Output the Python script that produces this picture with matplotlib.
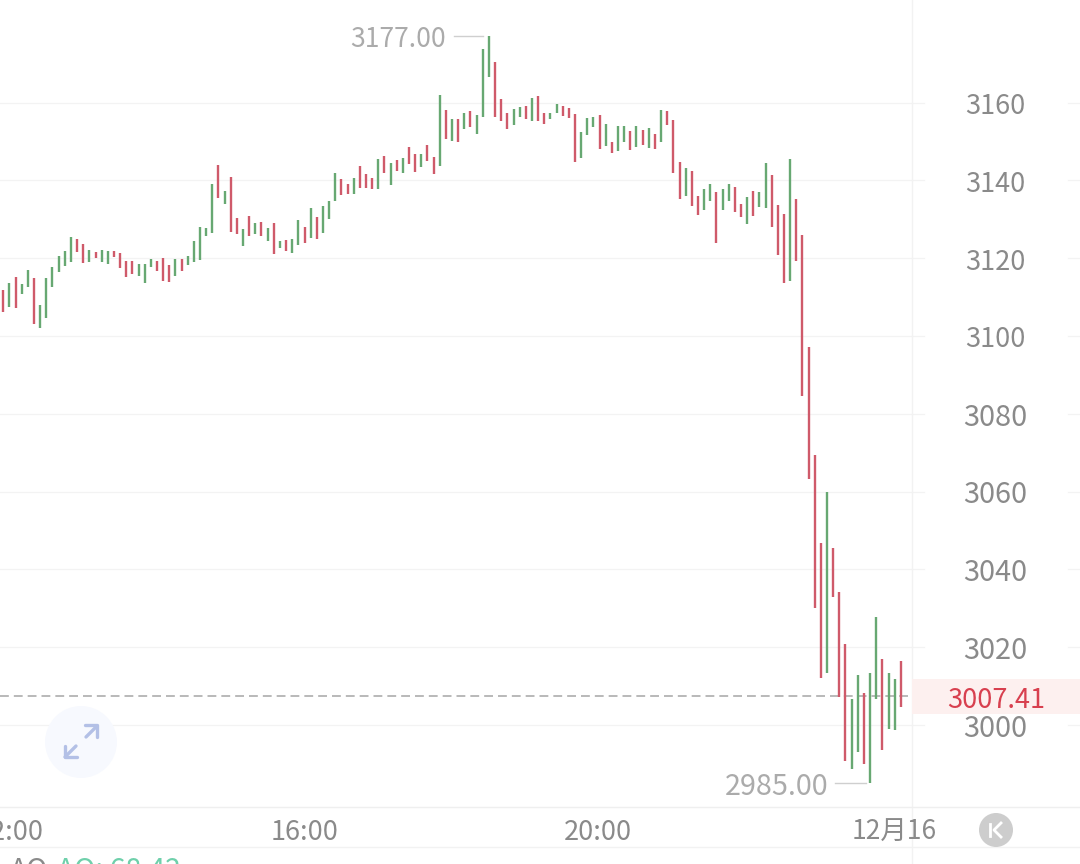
import matplotlib
matplotlib.use("Agg")
import matplotlib.pyplot as plt
from matplotlib.patches import Circle, Rectangle
from matplotlib.transforms import blended_transform_factory

# high / low of every bar
highs = [
    3111.7, 3113.5, 3115.1, 3113.3, 3117.0, 3114.8, 3107.9, 3115.0, 3117.7, 3120.6,
    3121.9, 3125.5, 3125.0, 3123.6, 3122.0, 3121.5, 3122.0, 3121.8, 3121.9, 3121.3,
    3119.3, 3119.2, 3118.4, 3118.4, 3119.9, 3119.2, 3120.0, 3118.2, 3119.7, 3119.7,
    3120.5, 3124.3, 3127.9, 3127.7, 3139.2, 3144.0, 3137.4, 3141.0, 3130.4, 3127.6,
    3130.8, 3129.0, 3129.2, 3127.7, 3129.0, 3124.3, 3124.6, 3124.9, 3129.7, 3127.9,
    3133.0, 3130.6, 3133.3, 3134.7, 3142.0, 3140.4, 3139.2, 3140.6, 3143.6, 3141.6,
    3140.5, 3145.4, 3146.3, 3144.6, 3145.2, 3145.8, 3148.7, 3146.7, 3146.9, 3149.0,
    3145.9, 3162.0, 3158.0, 3155.8, 3155.7, 3157.2, 3157.8, 3156.9, 3173.9, 3177.0,
    3170.5, 3161.0, 3157.2, 3158.4, 3158.8, 3159.0, 3161.3, 3161.8, 3157.2, 3157.3,
    3159.7, 3159.0, 3158.5, 3157.0, 3152.4, 3156.0, 3156.4, 3156.7, 3154.5, 3150.0,
    3153.9, 3153.9, 3152.6, 3154.0, 3153.0, 3153.5, 3152.0, 3158.0, 3157.8, 3155.4,
    3144.8, 3143.3, 3142.5, 3136.0, 3137.9, 3139.0, 3136.9, 3137.7, 3139.0, 3138.2,
    3134.0, 3135.8, 3137.3, 3136.9, 3144.4, 3141.3, 3133.6, 3131.3, 3145.4, 3135.2,
    3126.0, 3097.2, 3069.4, 3046.8, 3059.9, 3045.5, 3034.3, 3020.8, 3006.7, 3012.8,
    3008.1, 3013.3, 3027.8, 3016.9, 3013.4, 3011.8, 3016.5,
]
lows = [
    3106.2, 3107.5, 3107.3, 3110.7, 3112.7, 3103.2, 3102.1, 3104.5, 3112.5, 3116.5,
    3118.1, 3118.9, 3121.7, 3118.8, 3118.9, 3120.1, 3119.1, 3118.5, 3120.2, 3117.6,
    3115.1, 3115.9, 3115.3, 3113.7, 3117.8, 3116.6, 3114.1, 3114.0, 3115.5, 3116.6,
    3118.3, 3119.1, 3119.6, 3125.7, 3126.6, 3135.6, 3134.0, 3126.8, 3126.3, 3123.1,
    3125.8, 3126.3, 3125.8, 3124.3, 3121.2, 3122.5, 3121.9, 3121.3, 3123.3, 3124.0,
    3125.3, 3125.0, 3126.6, 3130.2, 3134.7, 3136.2, 3136.5, 3136.6, 3138.1, 3138.1,
    3137.9, 3137.9, 3141.9, 3138.9, 3142.3, 3142.0, 3144.3, 3142.2, 3143.5, 3145.1,
    3141.7, 3143.8, 3150.6, 3150.1, 3149.8, 3153.2, 3153.6, 3152.0, 3156.2, 3166.7,
    3156.4, 3155.2, 3153.2, 3154.2, 3156.4, 3155.9, 3155.2, 3155.3, 3154.6, 3155.7,
    3157.2, 3156.6, 3156.0, 3144.8, 3145.7, 3151.7, 3153.7, 3148.2, 3148.8, 3147.1,
    3147.6, 3149.8, 3147.9, 3148.5, 3149.0, 3148.4, 3148.1, 3149.8, 3154.3, 3141.9,
    3135.2, 3136.0, 3133.5, 3131.0, 3132.3, 3134.8, 3124.0, 3132.3, 3134.6, 3131.8,
    3130.7, 3128.9, 3130.8, 3133.2, 3133.0, 3127.9, 3120.7, 3113.5, 3114.1, 3119.4,
    3084.7, 3063.2, 3030.1, 3012.0, 3013.4, 3033.0, 3007.3, 2990.7, 2988.8, 2993.1,
    2990.0, 2985.0, 3006.8, 2993.5, 2999.0, 2998.8, 3004.7,
]
# indexes of the red bars, the rest are green
red_bars = [0, 2, 5, 12, 13, 15, 18, 19, 20, 21, 25, 26, 27, 29, 35, 37, 38, 40, 42, 44,
            46, 49, 51, 55, 56, 58, 59, 60, 62, 64, 66, 67, 69, 70, 72, 74, 76, 80, 81,
            82, 85, 87, 88, 91, 92, 93, 97, 99, 102, 104, 106, 108, 109, 110, 112, 113,
            116, 119, 120, 122, 125, 126, 127, 129, 130, 131, 132, 133, 135, 136, 137,
            140, 143, 146]

price_ticks = [3000, 3020, 3040, 3060, 3080, 3100, 3120, 3140, 3160]
time_labels = ["12:00", "16:00", "20:00", "12月16"]
time_pos = [1, 49, 96.8, 145]
last_price = 3007.41
high_price = 3177.00
low_price = 2985.00

plt.rcParams['font.family'] = ['Noto Sans CJK SC', 'DejaVu Sans']

W, H = 1080, 864
fig = plt.figure(figsize=(W / 100, H / 100), dpi=100)
ax = fig.add_axes([0, 0, 1, 1])
ax.set_xlim(-0.537, 175.15)
ax.set_ylim(3000 - (H - 725) / 3.89, 3000 + 725 / 3.89)
ax.axis("off")

# x given as a fraction of the width, y as a price
tr = blended_transform_factory(ax.transAxes, ax.transData)
RED = "#cf5a6a"
GREEN = "#67a872"
GREY = "#8a8a8a"
LIGHT = "#f3f3f3"


def fx(px):
    return px / W


def fy(px):
    return 1 - px / H


# price grid, broken where the labels sit
for p in price_ticks:
    ax.plot([0, fx(924)], [p, p], color=LIGHT, lw=0.9, transform=tr, zorder=1)
    ax.plot([fx(1068), 1], [p, p], color=LIGHT, lw=0.9, transform=tr, zorder=1)
    size = 19.5 if p >= 3100 else 20.8
    ax.text(fx(995), p - 1.0, str(p), color=GREY, fontsize=size, ha="center", va="center",
            transform=tr, zorder=5)

# panel separators
ax.plot([fx(912), fx(912)], [0, 1], color="#f2f2f2", lw=1, transform=ax.transAxes, zorder=1)
ax.plot([0, 1], [fy(807), fy(807)], color="#efefef", lw=1, transform=ax.transAxes, zorder=1)
ax.plot([0, 1], [fy(847), fy(847)], color="#f2f2f2", lw=1, transform=ax.transAxes, zorder=1)

# last price band
ax.add_patch(Rectangle((fx(912), fy(714)), fx(168), 35 / H, transform=ax.transAxes,
                       color="#fdf0ef", lw=0, zorder=2))
ax.text(fx(996), last_price - 1.0, "%.2f" % last_price, color="#d8404f", fontsize=19.5,
        ha="center", va="center", transform=tr, zorder=5)
ax.plot([0, fx(908)], [last_price, last_price], color="#adadad", lw=1.2,
        dashes=(5.3, 3), transform=tr, zorder=2)

# bars
xs = list(range(len(highs)))
colors = [RED if i in red_bars else GREEN for i in xs]
ax.vlines(xs, lows, highs, colors=colors, lw=1.7, zorder=3)

# high and low markers
ax.text(fx(446), high_price - 0.8, "%.2f" % high_price, color="#ababab", fontsize=19.1,
        ha="right", va="center", transform=tr, zorder=5)
ax.plot([fx(454), fx(483)], [high_price, high_price], color="#cfcfcf", lw=1, transform=tr)
ax.text(fx(828), low_price - 1.0, "%.2f" % low_price, color="#ababab", fontsize=20.7,
        ha="right", va="center", transform=tr, zorder=5)
ax.plot([fx(835), fx(866)], [low_price, low_price], color="#cfcfcf", lw=1, transform=tr)

# time axis
tr2 = blended_transform_factory(ax.transData, ax.transAxes)
for t, lab in zip(time_pos, time_labels):
    ax.text(t, fy(832), lab, color=GREY, fontsize=19.5 if t < 100 else 19, ha="center",
            va="center", transform=tr2, zorder=5)

# buttons, in pixels
px_ax = fig.add_axes([0, 0, 1, 1])
px_ax.set_xlim(0, W)
px_ax.set_ylim(H, 0)
px_ax.axis("off")
px_ax.patch.set_alpha(0)

px_ax.add_patch(Circle((81, 742), 36, color="#f7f9fe", lw=0, zorder=1))
ARROW = "#b3c0e6"
px_ax.plot([86, 97], [737, 726], color=ARROW, lw=2.4, solid_capstyle="round")
px_ax.plot([85, 97, 97], [725, 725, 737], color=ARROW, lw=2.4, solid_capstyle="round")
px_ax.plot([65, 76], [757, 746], color=ARROW, lw=2.4, solid_capstyle="round")
px_ax.plot([65, 65, 77], [746, 757, 757], color=ARROW, lw=2.4, solid_capstyle="round")

px_ax.add_patch(Circle((996, 830), 17, color="#cdcdcd", lw=0, zorder=1))
px_ax.plot([990, 990], [824, 836], color="white", lw=2, zorder=2)
px_ax.plot([1001, 994, 1001], [823, 830, 837], color="white", lw=2, zorder=2)

# indicator row, cut by the bottom edge
px_ax.text(10, 871, "AO", color=GREY, fontsize=20.5, ha="left", va="center", clip_on=True)
px_ax.text(57, 871, "AO: 68.42", color="#6fd0ab", fontsize=20.5, ha="left", va="center", clip_on=True)

fig.savefig("out.png", dpi=100)
